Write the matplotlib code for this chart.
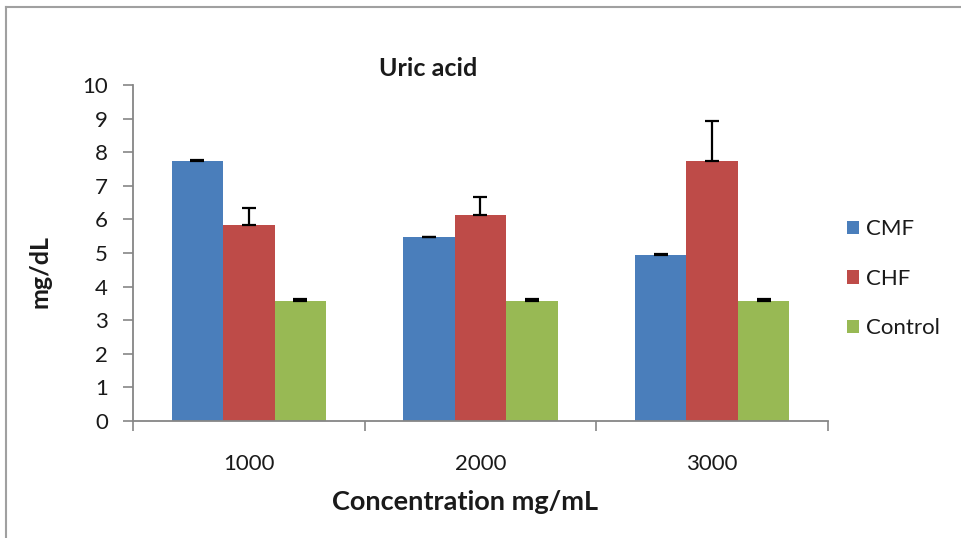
import matplotlib
matplotlib.use("Agg")
import matplotlib.pyplot as plt
import numpy as np
from matplotlib.lines import Line2D

plt.rcParams['font.family'] = ['Lato', 'DejaVu Sans']

# values
categories = ['1000', '2000', '3000']
series_names = ['CMF', 'CHF', 'Control']
cmf = [7.75, 5.47, 4.95]
cmf_err = [0.03, 0.02, 0.03]
chf = [5.83, 6.13, 7.74]
chf_err = [0.52, 0.53, 1.18]
control = [3.57, 3.57, 3.57]
control_err = [0.06, 0.06, 0.06]

colors = ['#4a7ebb', '#be4b48', '#98b954']

fig = plt.figure(figsize=(9.61, 5.38), dpi=100)
ax = fig.add_axes([133/961, 1 - 421/538, (828 - 133)/961, (421 - 85)/538])

x = np.arange(len(categories))
width = 1 / 4.5  # excel gap width 150%
all_vals = [cmf, chf, control]
all_errs = [cmf_err, chf_err, control_err]
for i in range(3):
    pos = x + (i - 1) * width
    ax.bar(pos, all_vals[i], width, color=colors[i], label=series_names[i], zorder=2)
    # excel-style plus-only error bars
    ax.errorbar(pos, all_vals[i], yerr=[np.zeros(3), all_errs[i]], fmt='none',
                ecolor='black', elinewidth=1.6, capsize=5, capthick=1.6, zorder=3)

ax.set_xlim(-0.5, 2.5)
ax.set_ylim(0, 10)
ax.set_yticks(range(0, 11))

# category boundaries get tick marks, labels go in between
ax.set_xticks([-0.5, 0.5, 1.5, 2.5])
ax.set_xticklabels([])
ax.set_xticks(x, minor=True)
ax.set_xticklabels(categories, minor=True)
ax.tick_params(axis='x', which='major', length=7, width=1.2, color='#868686', direction='out')
ax.tick_params(axis='x', which='minor', length=0, pad=24, labelsize=16, labelcolor='#1a1a1a')
ax.tick_params(axis='y', length=7, width=1.2, color='#868686', direction='out', pad=11,
               labelsize=16, labelcolor='#1a1a1a')

for s in ['top', 'right']:
    ax.spines[s].set_visible(False)
for s in ['left', 'bottom']:
    ax.spines[s].set_color('#868686')
    ax.spines[s].set_linewidth(1.3)

fig.text(428/961, 1 - 69/538, 'Uric acid', ha='center', va='center', fontsize=18,
         fontweight='bold', color='#1a1a1a')
fig.text(40/961, 1 - 272/538, 'mg/dL', ha='center', va='center', rotation=90,
         fontsize=18, fontweight='bold', color='#1a1a1a')
fig.text(465/961, 1 - 502/538, 'Concentration mg/mL', ha='center', va='center',
         fontsize=19.5, fontweight='bold', color='#1a1a1a')

leg = ax.legend(loc='upper left', bbox_to_anchor=(836/961, 1 - 208/538), bbox_transform=fig.transFigure,
                frameon=False, fontsize=16, handlelength=0.55, handleheight=0.55, handletextpad=0.3,
                labelspacing=1.33, borderpad=0)
for t in leg.get_texts():
    t.set_color('#1a1a1a')

# partial chart border visible on left and top
fig.add_artist(Line2D([6/961, 6/961], [0, 1 - 7/538], transform=fig.transFigure, color='#a0a0a0', lw=1.5))
fig.add_artist(Line2D([6/961, 1], [1 - 7/538, 1 - 7/538], transform=fig.transFigure, color='#a0a0a0', lw=1.5))

fig.savefig('out.png', dpi=100)
